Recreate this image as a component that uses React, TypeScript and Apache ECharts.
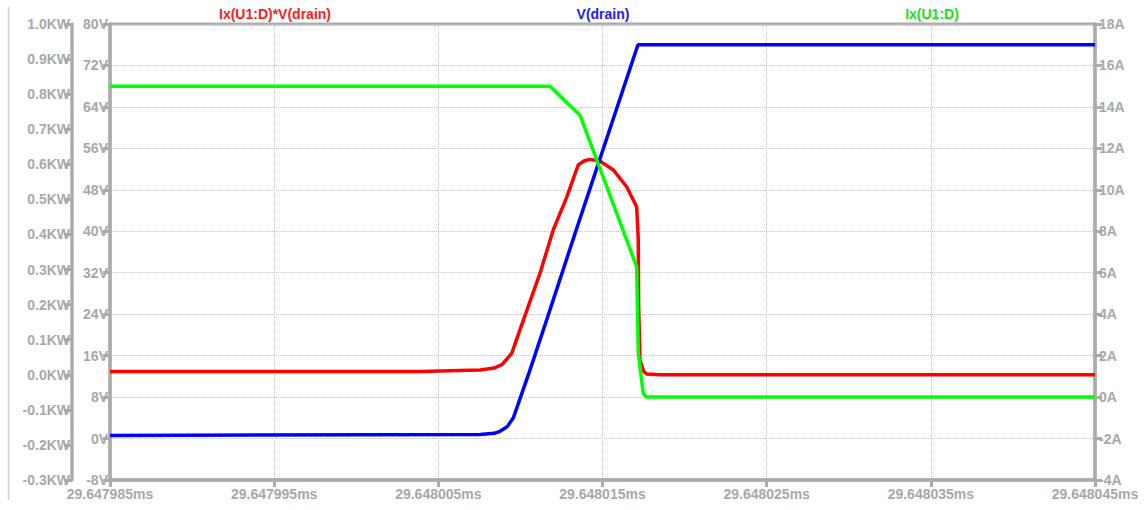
import React, { useEffect, useRef } from "react";
import * as echarts from "echarts";

// Time axis: nanoseconds after 29.647985 ms
const xTickLabels = [
  "29.647985ms",
  "29.647995ms",
  "29.648005ms",
  "29.648015ms",
  "29.648025ms",
  "29.648035ms",
  "29.648045ms",
];

// Ix(U1:D)*V(drain) in KW
const redTime = [0, 18.9, 22.54, 23.4, 23.9, 24.47, 25.18, 26.19, 27.0, 27.81, 28.52, 28.9, 29.24, 29.85, 30.66, 31.47, 32.08, 32.18, 32.2, 32.28, 32.5, 32.69, 33.5, 60];
const redPower = [0.009, 0.009, 0.0136, 0.019, 0.03, 0.061, 0.156, 0.289, 0.413, 0.505, 0.598, 0.61, 0.614, 0.609, 0.584, 0.536, 0.479, 0.384, 0.2, 0.042, 0.01, 0.002, 0, 0];

// V(drain) in V
const blueTime = [0, 22.54, 23.4, 23.76, 24.2, 24.57, 25.58, 26.6, 28.32, 32.16, 60];
const blueVoltage = [0.6, 0.8, 1.0, 1.4, 2.3, 4.0, 13.2, 22.9, 39.5, 76, 76];

// Ix(U1:D) in A
const greenTime = [0, 26.8, 28.63, 31.47, 32.08, 32.18, 32.48, 32.69, 60];
const greenCurrent = [15, 15, 13.6, 7.58, 6.29, 2.13, 0.18, 0, 0];

const zip = (xs: number[], ys: number[]) => xs.map((x, i) => [x, ys[i]]);

export default function App() {
  const ref = useRef<HTMLDivElement>(null);
  useEffect(() => {
    const chart = echarts.init(ref.current!, null, { renderer: "svg" });
    const axisGrey = "#ababab";
    const labelGrey = "#a8a8a8";
    const font = "'Liberation Sans', Arial, sans-serif";
    const labelStyle = { color: labelGrey, fontSize: 14, fontWeight: "bold", fontFamily: font };
    const axisLine = { show: true, onZero: false, lineStyle: { color: axisGrey, width: 3.5 } };
    const axisTick = { show: true, length: 7, lineStyle: { color: axisGrey, width: 3 } };
    const dotted = { show: true, lineStyle: { type: "dotted", color: "#c4c4c4", width: 1 } };
    chart.setOption({
      animation: false,
      backgroundColor: "#ffffff",
      grid: {
        left: 110,
        right: 49,
        top: 24,
        bottom: 30,
        show: true,
        borderColor: axisGrey,
        borderWidth: 3,
        outerBoundsMode: "none",
      },
      xAxis: {
        type: "value",
        min: 0,
        max: 60,
        interval: 10,
        axisLine,
        axisTick,
        axisLabel: {
          ...labelStyle,
          margin: 7,
          formatter: (v: number) => xTickLabels[Math.round(v / 10)] ?? "",
        },
        splitLine: dotted,
      },
      yAxis: [
        {
          type: "value",
          position: "left",
          min: -8,
          max: 80,
          interval: 8,
          axisLine,
          axisTick,
          axisLabel: { ...labelStyle, margin: 2, formatter: (v: number) => `${v}V` },
          splitLine: dotted,
        },
        {
          type: "value",
          position: "left",
          offset: 38,
          min: -0.3,
          max: 1.0,
          interval: 0.1,
          axisLine,
          axisTick,
          axisLabel: {
            ...labelStyle,
            margin: 2,
            formatter: (v: number) => (Math.abs(v) < 1e-9 ? "0.0" : v.toFixed(1)) + "KW",
          },
          splitLine: { show: false },
        },
        {
          type: "value",
          position: "right",
          min: -4,
          max: 18,
          interval: 2,
          axisLine,
          axisTick,
          axisLabel: { ...labelStyle, margin: 4, formatter: (v: number) => `${v}A` },
          splitLine: { show: false },
        },
      ],
      graphic: [
        {
          type: "line",
          shape: { x1: 8.5, y1: 7, x2: 8.5, y2: 500 },
          style: { stroke: "#cfcfcf", lineWidth: 1.5 },
        },
        {
          type: "text",
          x: 275,
          y: 14,
          style: { text: "Ix(U1:D)*V(drain)", fill: "#ff1a1a", font: `bold 14px ${font}`, align: "center", verticalAlign: "middle" },
        },
        {
          type: "text",
          x: 603,
          y: 14,
          style: { text: "V(drain)", fill: "#1a1aff", font: `bold 14px ${font}`, align: "center", verticalAlign: "middle" },
        },
        {
          type: "text",
          x: 932,
          y: 14,
          style: { text: "Ix(U1:D)", fill: "#1ae01a", font: `bold 14px ${font}`, align: "center", verticalAlign: "middle" },
        },
      ],
      series: [
        {
          name: "Ix(U1:D)*V(drain)",
          type: "line",
          xAxisIndex: 0,
          yAxisIndex: 1,
          data: zip(redTime, redPower),
          showSymbol: false,
          lineStyle: { color: "#ff0000", width: 3.5 },
          itemStyle: { color: "#ff0000" },
        },
        {
          name: "V(drain)",
          type: "line",
          xAxisIndex: 0,
          yAxisIndex: 0,
          data: zip(blueTime, blueVoltage),
          showSymbol: false,
          lineStyle: { color: "#0000ff", width: 3.5 },
          itemStyle: { color: "#0000ff" },
        },
        {
          name: "Ix(U1:D)",
          type: "line",
          xAxisIndex: 0,
          yAxisIndex: 2,
          data: zip(greenTime, greenCurrent),
          showSymbol: false,
          lineStyle: { color: "#00ff00", width: 3.5 },
          itemStyle: { color: "#00ff00" },
        },
      ],
    });
    return () => chart.dispose();
  }, []);
  return <div ref={ref} style={{ position: "absolute", left: 0, top: 0, width: 1144, height: 510 }} />;
}
